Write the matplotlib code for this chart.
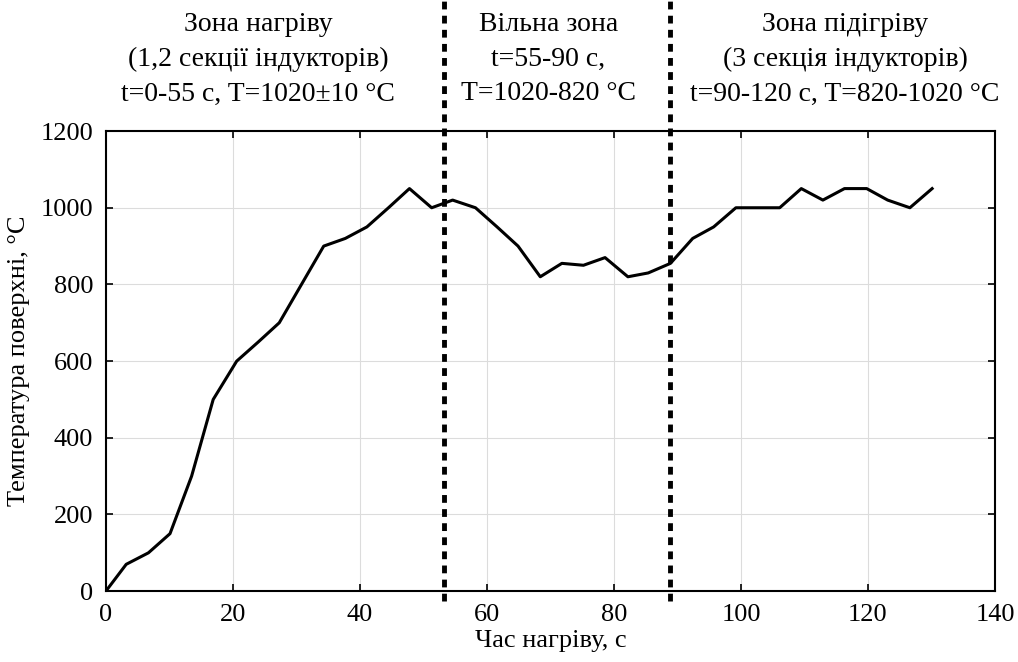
import matplotlib
matplotlib.use('Agg')
import matplotlib.pyplot as plt

plt.rcParams['font.family'] = ['Liberation Serif', 'DejaVu Serif']
plt.rcParams['font.size'] = 19

# дані: час нагріву (с) і температура поверхні (°С)
t = [0, 3.2, 6.7, 10.1, 13.5, 16.9, 20.6, 24.0, 27.3, 30.8, 34.3, 37.7, 41.1, 44.5, 47.8,
     51.3, 54.6, 58.2, 61.6, 64.9, 68.4, 71.8, 75.2, 78.6, 82.2, 85.4, 88.9, 92.4, 95.7,
     99.2, 102.6, 106.1, 109.5, 112.9, 116.3, 119.8, 123.1, 126.6, 130.1]
T = [0, 70, 100, 150, 300, 500, 600, 650, 700, 800, 900, 920, 950, 1000, 1050,
     1000, 1020, 1000, 950, 900, 820, 855, 850, 870, 820, 830, 855, 920, 950,
     1000, 1000, 1000, 1050, 1020, 1050, 1050, 1020, 1000, 1050]

zone_bounds = [53.3, 88.9]
zone_x = [24.0, 69.7, 116.4]
zone_text = ['Зона нагріву\n(1,2 секції індукторів)\nt=0-55 с, T=1020±10 °С',
             'Вільна зона\nt=55-90 с,\nT=1020-820 °С',
             'Зона підігріву\n(3 секція індукторів)\nt=90-120 с, T=820-1020 °С']

fig = plt.figure(figsize=(10.18, 6.62), dpi=100)
ax = fig.add_axes([0.104, 0.107, 0.8734, 0.695])

ax.plot(t, T, color='black', lw=2.2)

# межі зон - пунктир
for xb in zone_bounds:
    ax.plot([xb, xb], [-25, 1570], color='black', lw=3.5, linestyle=(0, (1.6, 1.3)),
            clip_on=False)

for xz, txt in zip(zone_x, zone_text):
    ax.text(xz, 1387, txt, ha='center', va='center', fontsize=20, linespacing=1.5)

ax.set_xlim(0, 140)
ax.set_ylim(0, 1200)
ax.set_xticks(range(0, 141, 20))
ax.set_yticks(range(0, 1201, 200))
ax.grid(True, color='#dcdcdc', lw=0.8)
ax.tick_params(direction='in', top=True, right=True, length=5, width=1.2, pad=9)
for s in ax.spines.values():
    s.set_linewidth(1.5)

ax.set_xlabel('Час нагріву, с', labelpad=3)
ax.set_ylabel('Температура поверхні, °С', labelpad=8)

fig.savefig('out.png', dpi=100)
